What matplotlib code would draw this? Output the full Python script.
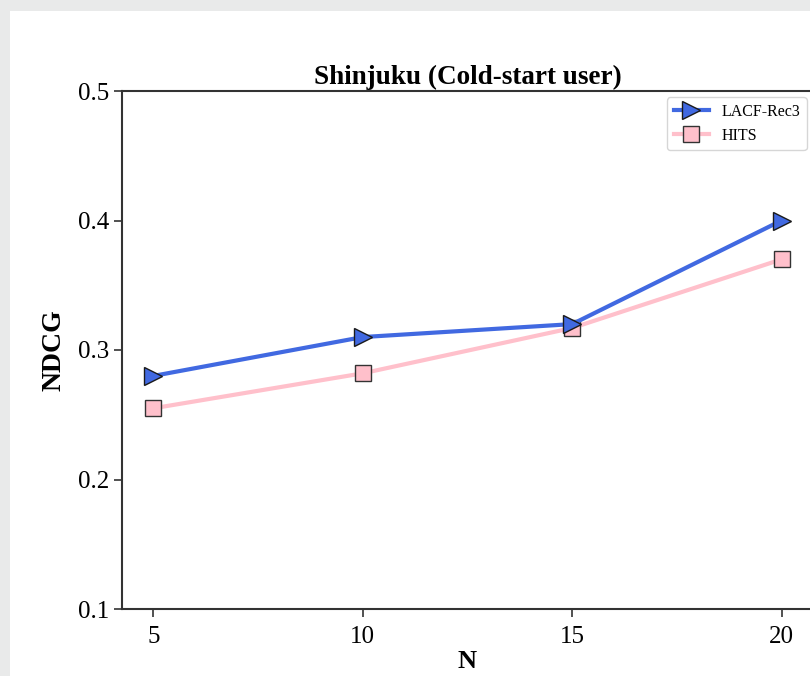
import matplotlib
matplotlib.use("Agg")
import matplotlib.pyplot as plt
from matplotlib.patches import Rectangle

N = [5, 10, 15, 20]
lacf = [0.28, 0.31, 0.32, 0.40]
hits = [0.255, 0.282, 0.317, 0.370]
yticks = [0.1, 0.2, 0.3, 0.4, 0.5]

plt.rcParams['font.family'] = ['Liberation Serif', 'DejaVu Serif']

fig = plt.figure(figsize=(8.1, 6.76), dpi=100, facecolor='#e9eaea')
fig.add_artist(Rectangle((10/810, 0), 1, 1 - 11/676, transform=fig.transFigure,
                         facecolor='white', edgecolor='none', zorder=-10))
ax = fig.add_axes([122/810, 1 - 609/676, (813 - 122)/810, (609 - 91)/676])
ax.set_facecolor('white')

ax.plot(N, lacf, color='#4169E1', lw=3, marker='>', ms=13, mfc='#4169E1',
        mec='#1a1a1a', mew=1, label='LACF-Rec3', zorder=3)
ax.plot(N, hits, color='#FFC0CB', lw=3, marker='s', ms=11, mfc='#FFC0CB',
        mec='#333333', mew=1, label='HITS', zorder=2)

ax.set_xlim(4.25, 20.75)
ax.set_ylim(0.1, 0.5)
ax.set_xticks(N)
ax.set_yticks(yticks)
ax.tick_params(labelsize=18, length=6, width=1.2, color='#333333', labelcolor='black')
ax.tick_params(axis='x', pad=6)
for s in ax.spines.values():
    s.set_color('#333333')
    s.set_linewidth(1.5)

ax.set_title('Shinjuku (Cold-start user)', fontsize=19.5, fontweight='bold', pad=5)
ax.set_xlabel('N', fontsize=19, fontweight='bold', labelpad=2)
ax.set_ylabel('NDCG', fontsize=20, fontweight='bold', labelpad=8)

leg = ax.legend(loc='upper right', fontsize=11.5, frameon=True, fancybox=True,
                borderaxespad=0.4, handlelength=2.2)
leg.get_frame().set_edgecolor('#cccccc')

fig.savefig('out.png', dpi=100, facecolor=fig.get_facecolor())
